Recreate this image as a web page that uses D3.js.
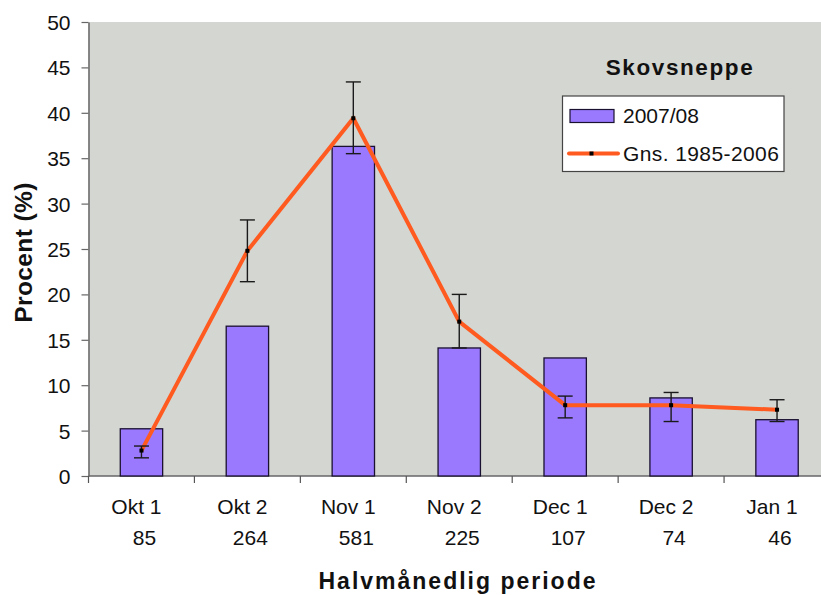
<!DOCTYPE html>
<html>
<head>
<meta charset="utf-8">
<script src="https://cdn.jsdelivr.net/npm/d3@7"></script>
<style>
  body { margin: 0; background: #fff; }
  svg { display: block; font-family: "Liberation Sans", Arial, sans-serif; }
</style>
</head>
<body>
<svg id="canvas" width="821" height="595"></svg>
<script>
// periods, number of birds per period, and percentages
let periods = ["Okt 1", "Okt 2", "Nov 1", "Nov 2", "Dec 1", "Dec 2", "Jan 1"];
let counts = [85, 264, 581, 225, 107, 74, 46];
let season = [5.2, 16.5, 36.3, 14.1, 13.0, 8.6, 6.2];
let average = [2.8, 24.8, 39.4, 17.0, 7.8, 7.8, 7.3];
let errLow = [2.0, 21.4, 35.5, 14.1, 6.4, 6.0, 6.0];
let errHigh = [3.3, 28.2, 43.4, 20.0, 8.8, 9.2, 8.4];
let yTicks = [0, 5, 10, 15, 20, 25, 30, 35, 40, 45, 50];

let canvas = d3.select("#canvas");

let plotL = 88.5, plotR = 830, plotT = 22, plotB = 476;

let x = d3.scaleBand().domain(periods).range([plotL, plotR]).padding(0);
let y = d3.scaleLinear().domain([0, 50]).range([plotB, plotT]);
let bw = x.bandwidth();
let cx = (p) => x(p) + bw / 2;

// plot background
canvas.append("rect")
  .attr("x", plotL).attr("y", plotT)
  .attr("width", plotR - plotL).attr("height", plotB - plotT)
  .attr("fill", "#d4d6d1");

// y axis
let yAxis = canvas.append("g")
  .attr("transform", "translate(" + plotL + ",0)")
  .call(d3.axisLeft(y).tickValues(yTicks).tickSize(7).tickSizeOuter(0).tickPadding(11));
yAxis.attr("font-size", null).attr("font-family", null);
yAxis.select(".domain").attr("stroke", "#666").attr("stroke-width", 1.5);
yAxis.selectAll(".tick line").attr("stroke", "#666").attr("stroke-width", 1.2);
yAxis.selectAll(".tick text")
  .attr("fill", "#111")
  .style("font-size", "21px")
  .style("font-family", "'Liberation Sans', Arial, sans-serif")
  .attr("dy", "0.36em");

// x axis line + boundary ticks
canvas.append("line")
  .attr("x1", plotL).attr("x2", plotR)
  .attr("y1", plotB).attr("y2", plotB)
  .attr("stroke", "#666").attr("stroke-width", 1.5);

let edges = periods.map((p) => x(p));
canvas.selectAll(".xtick")
  .data(edges)
  .enter()
  .append("line")
  .attr("class", "xtick")
  .attr("x1", (d) => d).attr("x2", (d) => d)
  .attr("y1", plotB).attr("y2", plotB + 7)
  .attr("stroke", "#555").attr("stroke-width", 1.2);

// x labels (two rows)
canvas.selectAll(".xlab")
  .data(periods)
  .enter()
  .append("text")
  .attr("class", "xlab")
  .attr("x", (p) => cx(p) - 5)
  .attr("y", 514)
  .attr("text-anchor", "middle")
  .style("font-size", "21px")
  .attr("fill", "#111")
  .text((p) => p);

canvas.selectAll(".xcount")
  .data(periods)
  .enter()
  .append("text")
  .attr("class", "xcount")
  .attr("x", (p) => cx(p) + 3)
  .attr("y", 545)
  .attr("text-anchor", "middle")
  .style("font-size", "21px")
  .attr("fill", "#111")
  .text((p, i) => counts[i]);

// bars
canvas.selectAll(".bar")
  .data(periods)
  .enter()
  .append("rect")
  .attr("class", "bar")
  .attr("x", (p) => cx(p) - bw * 0.2)
  .attr("width", bw * 0.4)
  .attr("y", (p, i) => y(season[i]))
  .attr("height", (p, i) => y(0) - y(season[i]))
  .attr("fill", "#9a79ff")
  .attr("stroke", "#1a1030")
  .attr("stroke-width", 1.3);

// average line
let line = d3.line()
  .x((d) => cx(d.p))
  .y((d) => y(d.v));
let avgData = periods.map((p, i) => ({ p: p, v: average[i] }));

canvas.append("path")
  .datum(avgData)
  .attr("d", line)
  .attr("fill", "none")
  .attr("stroke", "#ff5a1f")
  .attr("stroke-width", 4)
  .attr("stroke-linejoin", "miter");

// error bars
let errG = canvas.selectAll(".err")
  .data(periods)
  .enter()
  .append("g")
  .attr("class", "err")
  .attr("stroke", "#1a1a1a")
  .attr("stroke-width", 1.4);
errG.append("line")
  .attr("x1", (p) => cx(p)).attr("x2", (p) => cx(p))
  .attr("y1", (p, i) => y(errLow[i])).attr("y2", (p, i) => y(errHigh[i]));
errG.append("line")
  .attr("x1", (p) => cx(p) - 7.5).attr("x2", (p) => cx(p) + 7.5)
  .attr("y1", (p, i) => y(errLow[i])).attr("y2", (p, i) => y(errLow[i]));
errG.append("line")
  .attr("x1", (p) => cx(p) - 7.5).attr("x2", (p) => cx(p) + 7.5)
  .attr("y1", (p, i) => y(errHigh[i])).attr("y2", (p, i) => y(errHigh[i]));

// point markers
canvas.selectAll(".pt")
  .data(avgData)
  .enter()
  .append("rect")
  .attr("class", "pt")
  .attr("x", (d) => cx(d.p) - 2)
  .attr("y", (d) => y(d.v) - 2)
  .attr("width", 4).attr("height", 4)
  .attr("fill", "#000");

// title
canvas.append("text")
  .attr("x", 680).attr("y", 75)
  .attr("text-anchor", "middle")
  .style("font-size", "22.5px")
  .style("font-weight", "bold")
  .style("letter-spacing", "1.6px")
  .attr("fill", "#111")
  .text("Skovsneppe");

// legend
let legend = canvas.append("g");
legend.append("rect")
  .attr("x", 562.5).attr("y", 96)
  .attr("width", 221.5).attr("height", 75.5)
  .attr("fill", "#fff").attr("stroke", "#444").attr("stroke-width", 1.2);
legend.append("rect")
  .attr("x", 570).attr("y", 109.5)
  .attr("width", 44).attr("height", 13)
  .attr("fill", "#9a79ff").attr("stroke", "#1a1030").attr("stroke-width", 1.2);
legend.append("text")
  .attr("x", 623).attr("y", 123)
  .style("font-size", "21px")
  .attr("fill", "#111")
  .text("2007/08");
legend.append("line")
  .attr("x1", 569).attr("x2", 618)
  .attr("y1", 153.5).attr("y2", 153.5)
  .attr("stroke", "#ff5a1f").attr("stroke-width", 4)
  .attr("stroke-linecap", "round");
legend.append("rect")
  .attr("x", 589.5).attr("y", 151.5)
  .attr("width", 4).attr("height", 4)
  .attr("fill", "#000");
legend.append("text")
  .attr("x", 623).attr("y", 160.5)
  .style("font-size", "21px")
  .style("letter-spacing", "0.4px")
  .attr("fill", "#111")
  .text("Gns. 1985-2006");

// axis titles
canvas.append("text")
  .attr("transform", "translate(31.5,252.5) rotate(-90)")
  .attr("text-anchor", "middle")
  .style("font-size", "24.5px")
  .style("font-weight", "bold")
  .style("letter-spacing", "0.4px")
  .attr("fill", "#111")
  .text("Procent (%)");

canvas.append("text")
  .attr("x", 458).attr("y", 589)
  .attr("text-anchor", "middle")
  .style("font-size", "23px")
  .style("font-weight", "bold")
  .style("letter-spacing", "2px")
  .attr("fill", "#111")
  .text("Halvmånedlig periode");
</script>
</body>
</html>
